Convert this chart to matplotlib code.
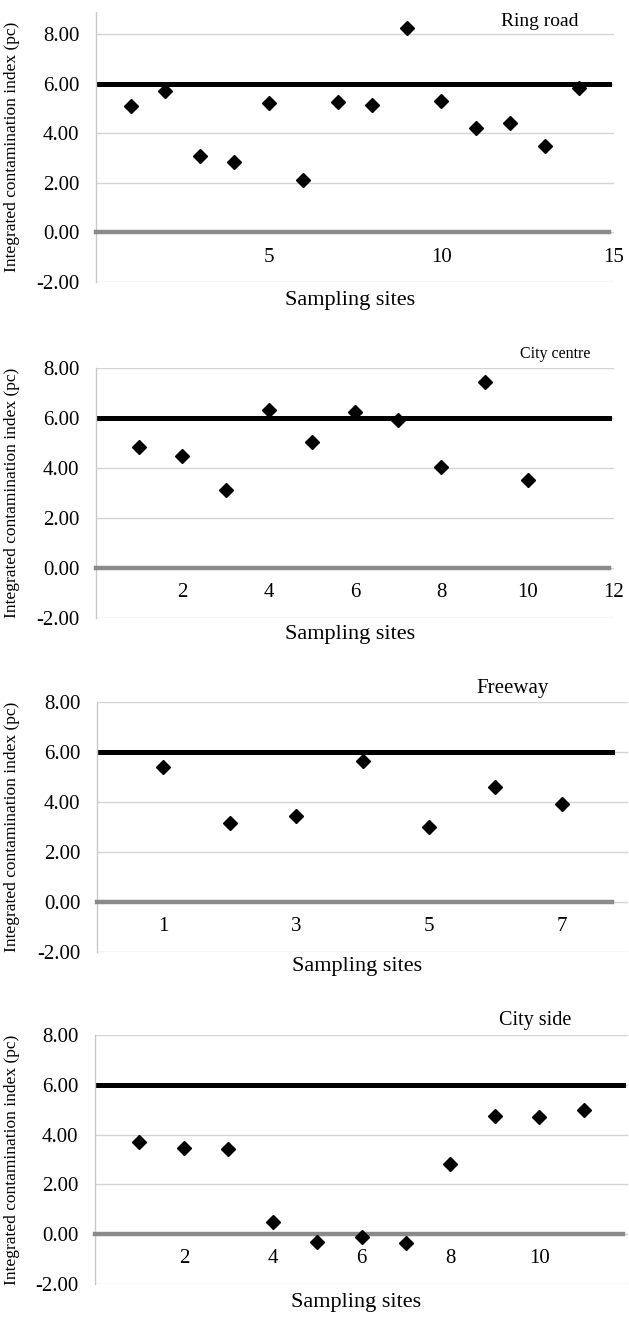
"""Integrated contamination index at the sampling sites of four road types."""

from matplotlib import pyplot
import numpy


# Values.
ring_road_sites = numpy.arange(1, 15)
ring_road_pc = [5.09, 5.72, 3.07, 2.86, 5.24, 2.12, 5.27,
                5.14, 8.24, 5.31, 4.23, 4.43, 3.49, 5.85]

city_centre_sites = numpy.arange(1, 11)
city_centre_pc = [4.83, 4.47, 3.13, 6.32, 5.03, 6.25, 5.91, 4.04, 7.45, 3.53]

freeway_sites = numpy.arange(1, 8)
freeway_pc = [5.40, 3.16, 3.44, 5.65, 3.00, 4.61, 3.91]

city_side_sites = numpy.arange(1, 12)
city_side_pc = [3.69, 3.47, 3.43, 0.47, -0.31, -0.12, -0.36,
                2.82, 4.75, 4.72, 5.00]

threshold = 6.0
yticks = [-2, 0, 2, 4, 6, 8]

panels = [
    # name, sites, values, xmax, ymax, xticks, box (left, top, right, bottom px),
    # title centre (x, y px), title size, line end fraction, xlabel gap px
    ('Ring road', ring_road_sites, ring_road_pc, 15, 8.9, [5, 10, 15],
     (96, 12, 614, 282), (540, 21), 14, 0.99, 9),
    ('City centre', city_centre_sites, city_centre_pc, 12, 8.0,
     [2, 4, 6, 8, 10, 12],
     (96, 368, 614, 618), (555, 354), 11.5, 0.99, 7),
    ('Freeway', freeway_sites, freeway_pc, 8, 8.0, [1, 3, 5, 7],
     (97, 702, 628, 952), (513, 689), 15, 0.97, 5),
    ('City side', city_side_sites, city_side_pc, 12, 8.0, [2, 4, 6, 8, 10],
     (95, 1035, 628, 1284), (535, 1020), 14.5, 0.99, 9),
]

W, H = 629, 1317
pyplot.rc('font', family='Liberation Serif', size=15)
fig = pyplot.figure(figsize=(W / 100, H / 100), dpi=100)

for (name, sites, values, xmax, ymax, xticks, box, tpos, tsize,
     lend, gap) in panels:
    left, top, right, bottom = box
    width, height = right - left, bottom - top
    ax = fig.add_axes([left / W, 1 - bottom / H, width / W, height / H])
    ax.set_xlim(0, xmax)
    ax.set_ylim(-2, ymax)
    ax.set_yticks(yticks)
    ax.set_yticklabels([f'{v:.2f}' for v in yticks])
    ax.set_xticks(xticks)
    ax.grid(axis='y', color='#d4d4d4', linewidth=1.0, zorder=0)
    ax.set_axisbelow(True)
    for side in ('top', 'right'):
        ax.spines[side].set_visible(False)
    ax.spines['left'].set_color('#c8c8c8')
    ax.spines['left'].set_linewidth(1.0)
    ax.spines['bottom'].set_position(('data', 0))
    ax.spines['bottom'].set_color('#8a8a8a')
    ax.spines['bottom'].set_linewidth(3.2)
    ax.spines['bottom'].set_bounds(0, xmax * lend)
    ax.tick_params(axis='both', length=0)
    ax.tick_params(axis='y', pad=12)
    ax.tick_params(axis='x', pad=11)
    ax.axhline(threshold, xmin=0, xmax=lend, color='black', linewidth=3.6,
               zorder=2)
    ax.plot(sites, values, linestyle='none', marker='D', markersize=7,
            color='black', zorder=3)
    ax.set_ylabel('Integrated contamination index (pc)', fontsize=12.5)
    ax.set_xlabel('Sampling sites', fontsize=16)
    ax.xaxis.set_label_coords(0.49, -gap / height)
    ax.yaxis.set_label_coords(-(left - 20) / width, 0.5)
    fig.text(tpos[0] / W, 1 - tpos[1] / H, name, fontsize=tsize,
             ha='center', va='center')

fig.savefig('out.png', dpi=100)
